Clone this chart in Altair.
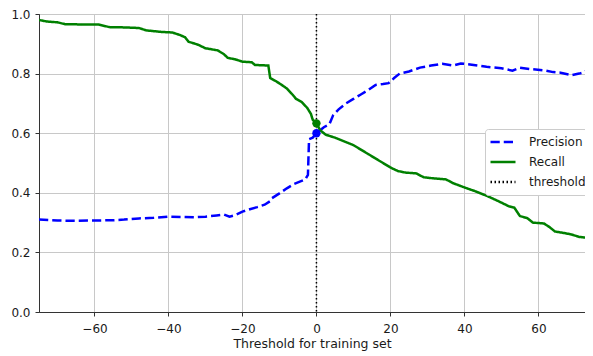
import altair as alt
import pandas as pd

prec_x = [-75, -70, -65, -60, -55, -52, -48, -44, -40, -36, -33, -30, -27, -25, -23.5, -22, -20, -18, -16, -14,
          -12.5, -12, -10, -8, -6, -4, -3, -2.3, -2.0, -1, 0, 1, 2, 3.5, 4.5, 6, 8, 10, 12, 14, 16, 18, 19.5,
          21, 22.5, 25, 28, 31, 34, 37, 39, 42, 46, 50, 53, 55, 58, 62, 64, 66, 69, 71, 72.5, 74.5]
prec_y = [0.31, 0.307, 0.306, 0.307, 0.308, 0.310, 0.314, 0.316, 0.320, 0.319, 0.318, 0.320, 0.324, 0.327, 0.320,
          0.325, 0.337, 0.345, 0.352, 0.360, 0.372, 0.382, 0.398, 0.415, 0.430, 0.440, 0.445, 0.46, 0.58, 0.585,
          0.60, 0.61, 0.62, 0.63, 0.66, 0.68, 0.70, 0.715, 0.73, 0.745, 0.762, 0.765, 0.768, 0.785, 0.80, 0.807,
          0.82, 0.827, 0.833, 0.827, 0.834, 0.83, 0.823, 0.818, 0.81, 0.82, 0.815, 0.81, 0.805, 0.803, 0.795,
          0.80, 0.805, 0.825]

rec_x = [-75, -73, -70, -68, -64, -59, -56, -52, -48, -46, -42, -39, -37, -35.5, -34.6, -32, -30, -26.7, -25, -24,
         -22, -20, -17.5, -16.6, -13, -12.5, -11, -9.5, -8, -6.5, -5.5, -4, -2.5, -1.5, -1, 0, 1, 2.5, 5, 8, 10,
         12, 14, 16, 18, 20, 22, 24, 27, 29, 32, 35, 37, 40, 43, 46, 49, 52, 53.5, 55, 57, 58.5, 61.5, 63, 64.5,
         67, 69, 71, 74.5]
rec_y = [0.98, 0.975, 0.972, 0.966, 0.965, 0.965, 0.956, 0.955, 0.953, 0.945, 0.94, 0.938, 0.93, 0.922, 0.907,
         0.897, 0.885, 0.878, 0.865, 0.853, 0.848, 0.840, 0.838, 0.829, 0.827, 0.785, 0.775, 0.763, 0.75, 0.73,
         0.715, 0.705, 0.685, 0.665, 0.645, 0.633, 0.61, 0.595, 0.585, 0.57, 0.56, 0.545, 0.53, 0.515, 0.50,
         0.485, 0.473, 0.468, 0.465, 0.452, 0.448, 0.445, 0.432, 0.418, 0.405, 0.39, 0.373, 0.355, 0.35, 0.322,
         0.315, 0.30, 0.297, 0.285, 0.27, 0.265, 0.26, 0.252, 0.247]

series_names = ["Precision", "Recall", "threshold"]
series_colors = ["#0000ff", "#008000", "#000000"]
series_dash = [[9.25, 4], [1, 0], [1.5, 2.5]]

threshold_value = 0
marker_vals = [0.60, 0.633]
marker_colors = ["#0000ff", "#008000"]

x_ticks = [-60, -40, -20, 0, 20, 40, 60]
y_ticks = [0.0, 0.2, 0.4, 0.6, 0.8, 1.0]

df = pd.concat([
    pd.DataFrame({"t": prec_x, "v": prec_y, "series": "Precision", "o": range(len(prec_x))}),
    pd.DataFrame({"t": rec_x, "v": rec_y, "series": "Recall", "o": range(len(rec_x))}),
])
mk = pd.DataFrame({"t": [threshold_value] * 2, "v": marker_vals, "c": marker_colors})
th = pd.DataFrame({"t": [threshold_value], "series": ["threshold"]})

xscale = alt.Scale(domain=[-75, 72.6], nice=False, zero=False)
yscale = alt.Scale(domain=[0, 1], nice=False)
cscale = alt.Scale(domain=series_names, range=series_colors)
dscale = alt.Scale(domain=series_names, range=series_dash)

legend = alt.Legend(title=None, orient="none", legendX=446, legendY=115, symbolType="stroke",
                    symbolSize=625, symbolStrokeWidth=2.5, labelFontSize=12, labelFont="DejaVu Sans",
                    labelColor="#1a1a1a", labelOffset=12, fillColor="white", strokeColor="#cccccc",
                    cornerRadius=3, padding=4, rowPadding=2, clipHeight=18)

xaxis = alt.Axis(values=x_ticks, title="Threshold for training set", grid=True, labelPadding=7)
yaxis = alt.Axis(values=y_ticks, format=".1f", title=None, grid=True, labelPadding=5)

lines = alt.Chart(df).mark_line(strokeWidth=2.5, strokeCap="butt", clip=True).encode(
    x=alt.X("t:Q", scale=xscale, axis=xaxis),
    y=alt.Y("v:Q", scale=yscale, axis=yaxis),
    color=alt.Color("series:N", scale=cscale, legend=legend),
    strokeDash=alt.StrokeDash("series:N", scale=dscale, legend=legend),
    order="o:Q",
)

rule = alt.Chart(th).mark_rule(strokeWidth=1.5).encode(
    x=alt.X("t:Q", scale=xscale),
    color=alt.Color("series:N", scale=cscale, legend=legend),
    strokeDash=alt.StrokeDash("series:N", scale=dscale, legend=legend),
)

points = alt.Chart(mk).mark_circle(size=70, opacity=1).encode(
    x=alt.X("t:Q", scale=xscale),
    y=alt.Y("v:Q", scale=yscale),
    color=alt.Color("c:N", scale=None),
)

chart = alt.layer(lines, rule, points).properties(
    width=546, height=298,
    autosize=alt.AutoSizeParams(type="none"),
    padding={"left": 31, "top": 6, "right": 0, "bottom": 42},
).configure_view(stroke="#333333", strokeWidth=1).configure_axis(
    labelFont="DejaVu Sans", labelFontSize=12, labelColor="#1a1a1a",
    titleFont="DejaVu Sans", titleFontSize=12.5, titleFontWeight="normal", titleColor="#1a1a1a",
    titlePadding=3, gridColor="#c8c8c8", gridWidth=1, domainColor="#333333", tickColor="#333333",
    tickSize=4, labelPadding=6,
)

chart.save("out.html", embed_options={"renderer": "svg", "actions": False})
